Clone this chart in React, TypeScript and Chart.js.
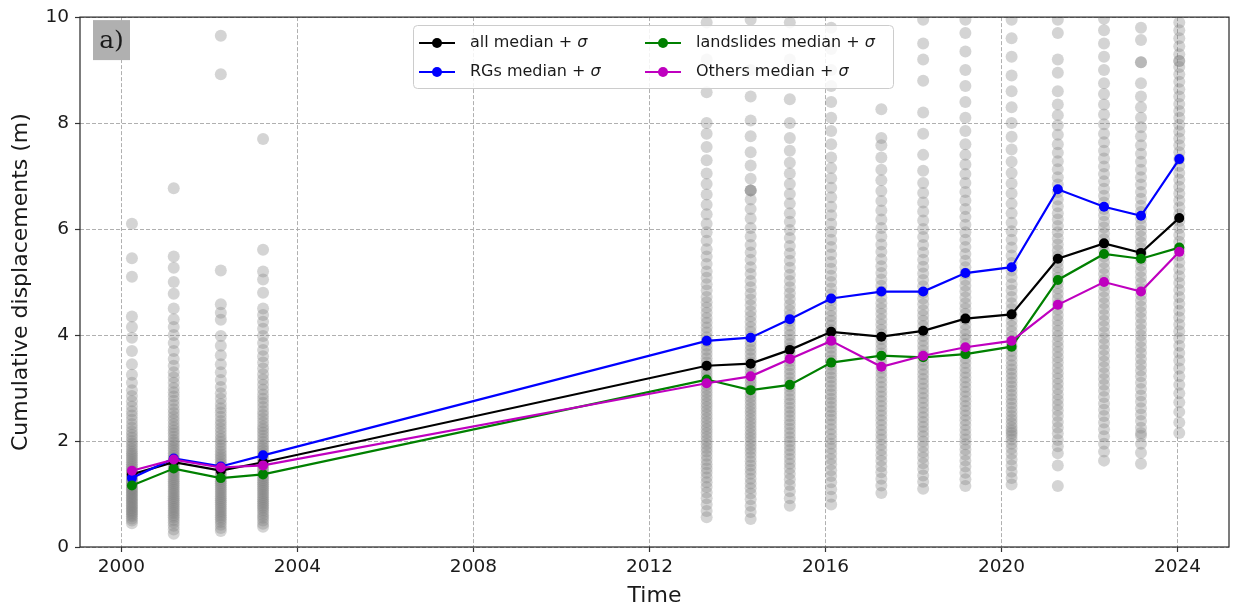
import React, { useEffect, useRef } from 'react';
import { Chart, registerables } from 'chart.js';

Chart.register(...registerables);

// Survey epochs (decimal years)
const epochs = [2000.24, 2001.19, 2002.26, 2003.22, 2013.3, 2014.3, 2015.19, 2016.13, 2017.27, 2018.22, 2019.18, 2020.23, 2021.28, 2022.33, 2023.17, 2024.04];

// Median (+ sigma) cumulative displacement per group, metres
const allMedian = [1.37, 1.6, 1.44, 1.6, 3.42, 3.46, 3.72, 4.06, 3.97, 4.08, 4.31, 4.39, 5.44, 5.73, 5.55, 6.21];
const rgMedian = [1.3, 1.67, 1.52, 1.73, 3.89, 3.95, 4.3, 4.69, 4.82, 4.82, 5.17, 5.28, 6.75, 6.42, 6.25, 7.32];
const landslideMedian = [1.16, 1.48, 1.3, 1.37, 3.16, 2.96, 3.06, 3.48, 3.61, 3.58, 3.64, 3.78, 5.04, 5.53, 5.44, 5.65];
const othersMedian = [1.44, 1.65, 1.5, 1.54, 3.09, 3.22, 3.55, 3.89, 3.4, 3.61, 3.77, 3.89, 4.57, 5.0, 4.82, 5.57];

// Individual cumulative displacements at each epoch, metres
const displacementsByEpoch = [
  [0.45, 0.5, 0.54, 0.58, 0.61, 0.64, 0.67, 0.7, 0.73, 0.76, 0.79, 0.82, 0.85, 0.88, 0.91, 0.94, 0.97, 1.0, 1.03, 1.06, 1.09, 1.12, 1.15, 1.18, 1.21, 1.24, 1.27, 1.3, 1.33, 1.36, 1.39, 1.42, 1.45, 1.48, 1.52, 1.56, 1.6, 1.64, 1.68, 1.72, 1.76, 1.8, 1.85, 1.9, 1.95, 2.0, 2.06, 2.12, 2.18, 2.25, 2.32, 2.4, 2.48, 2.56, 2.65, 2.75, 2.85, 2.96, 3.1, 3.25, 3.45, 3.7, 3.95, 4.15, 4.35, 5.1, 5.45, 6.1],
  [0.25, 0.33, 0.4, 0.46, 0.51, 0.56, 0.6, 0.64, 0.68, 0.72, 0.76, 0.8, 0.84, 0.88, 0.92, 0.96, 1.0, 1.04, 1.08, 1.12, 1.16, 1.2, 1.24, 1.28, 1.32, 1.36, 1.4, 1.44, 1.48, 1.52, 1.56, 1.6, 1.64, 1.68, 1.72, 1.77, 1.82, 1.87, 1.92, 1.97, 2.02, 2.08, 2.14, 2.2, 2.26, 2.32, 2.39, 2.46, 2.53, 2.6, 2.68, 2.76, 2.84, 2.92, 3.0, 3.1, 3.2, 3.3, 3.42, 3.55, 3.7, 3.85, 4.0, 4.15, 4.3, 4.5, 4.78, 5.0, 5.27, 5.48, 6.77],
  [0.3, 0.36, 0.42, 0.47, 0.52, 0.56, 0.6, 0.64, 0.68, 0.72, 0.76, 0.8, 0.84, 0.88, 0.92, 0.96, 1.0, 1.04, 1.08, 1.12, 1.16, 1.2, 1.24, 1.28, 1.32, 1.36, 1.4, 1.44, 1.48, 1.52, 1.56, 1.6, 1.65, 1.7, 1.75, 1.8, 1.86, 1.92, 1.98, 2.04, 2.1, 2.17, 2.24, 2.31, 2.38, 2.46, 2.54, 2.62, 2.7, 2.8, 2.9, 3.02, 3.15, 3.3, 3.45, 3.62, 3.8, 3.98, 4.29, 4.42, 4.58, 5.22, 8.92, 9.65],
  [0.38, 0.44, 0.5, 0.55, 0.6, 0.65, 0.7, 0.74, 0.78, 0.82, 0.86, 0.9, 0.94, 0.98, 1.02, 1.06, 1.1, 1.14, 1.18, 1.22, 1.26, 1.3, 1.34, 1.38, 1.42, 1.46, 1.5, 1.54, 1.58, 1.62, 1.67, 1.72, 1.77, 1.82, 1.87, 1.92, 1.98, 2.04, 2.1, 2.16, 2.22, 2.28, 2.35, 2.42, 2.49, 2.56, 2.64, 2.72, 2.8, 2.88, 2.97, 3.06, 3.16, 3.26, 3.37, 3.48, 3.6, 3.72, 3.85, 3.98, 4.12, 4.25, 4.38, 4.5, 4.8, 5.05, 5.2, 5.61, 7.7],
  [0.56, 0.68, 0.8, 0.92, 1.03, 1.13, 1.22, 1.31, 1.4, 1.48, 1.56, 1.64, 1.72, 1.8, 1.87, 1.94, 2.01, 2.08, 2.15, 2.22, 2.29, 2.36, 2.43, 2.5, 2.57, 2.64, 2.71, 2.78, 2.85, 2.92, 2.99, 3.06, 3.13, 3.2, 3.27, 3.34, 3.41, 3.48, 3.56, 3.64, 3.72, 3.8, 3.88, 3.96, 4.05, 4.14, 4.23, 4.32, 4.42, 4.52, 4.62, 4.72, 4.84, 4.96, 5.08, 5.2, 5.34, 5.48, 5.62, 5.78, 5.94, 6.1, 6.28, 6.46, 6.65, 6.85, 7.05, 7.3, 7.55, 7.8, 8.0, 8.58, 9.2, 9.9],
  [0.53, 0.66, 0.78, 0.9, 1.01, 1.11, 1.2, 1.29, 1.38, 1.46, 1.54, 1.62, 1.7, 1.78, 1.85, 1.92, 1.99, 2.06, 2.13, 2.2, 2.27, 2.34, 2.41, 2.48, 2.55, 2.62, 2.69, 2.76, 2.83, 2.9, 2.97, 3.04, 3.11, 3.18, 3.25, 3.32, 3.4, 3.48, 3.56, 3.64, 3.72, 3.8, 3.88, 3.97, 4.06, 4.15, 4.25, 4.35, 4.45, 4.56, 4.67, 4.78, 4.9, 5.02, 5.15, 5.28, 5.42, 5.56, 5.7, 5.86, 6.02, 6.2, 6.38, 6.56, 6.73, 6.73, 6.73, 6.95, 7.2, 7.45, 7.75, 8.05, 8.5, 9.0, 9.5, 9.95],
  [0.78, 0.92, 1.05, 1.17, 1.28, 1.38, 1.48, 1.57, 1.66, 1.75, 1.83, 1.91, 1.99, 2.07, 2.15, 2.23, 2.31, 2.39, 2.47, 2.55, 2.63, 2.71, 2.79, 2.87, 2.95, 3.03, 3.11, 3.19, 3.27, 3.35, 3.43, 3.51, 3.59, 3.67, 3.75, 3.83, 3.91, 4.0, 4.09, 4.18, 4.27, 4.37, 4.47, 4.57, 4.68, 4.79, 4.9, 5.02, 5.14, 5.27, 5.4, 5.54, 5.68, 5.83, 5.98, 6.14, 6.3, 6.48, 6.66, 6.85, 7.05, 7.25, 7.48, 7.72, 8.0, 8.45, 9.2, 9.9],
  [0.8, 0.95, 1.09, 1.22, 1.34, 1.45, 1.56, 1.66, 1.76, 1.86, 1.95, 2.04, 2.13, 2.22, 2.31, 2.4, 2.48, 2.56, 2.64, 2.72, 2.8, 2.88, 2.96, 3.04, 3.12, 3.2, 3.28, 3.36, 3.44, 3.52, 3.6, 3.68, 3.76, 3.84, 3.92, 4.0, 4.09, 4.18, 4.27, 4.36, 4.46, 4.56, 4.66, 4.77, 4.88, 5.0, 5.12, 5.25, 5.38, 5.52, 5.66, 5.8, 5.95, 6.1, 6.26, 6.42, 6.6, 6.78, 6.96, 7.15, 7.35, 7.6, 7.85, 8.1, 8.4, 8.7, 9.0, 9.4, 9.8],
  [1.02, 1.16, 1.29, 1.41, 1.52, 1.63, 1.73, 1.83, 1.93, 2.03, 2.12, 2.21, 2.3, 2.39, 2.48, 2.57, 2.66, 2.75, 2.84, 2.93, 3.02, 3.11, 3.2, 3.29, 3.38, 3.47, 3.56, 3.65, 3.74, 3.83, 3.92, 4.01, 4.1, 4.2, 4.3, 4.4, 4.5, 4.6, 4.71, 4.82, 4.93, 5.05, 5.17, 5.3, 5.43, 5.57, 5.71, 5.86, 6.02, 6.18, 6.35, 6.53, 6.72, 6.92, 7.12, 7.35, 7.58, 7.72, 8.26],
  [1.1, 1.23, 1.35, 1.47, 1.58, 1.69, 1.79, 1.89, 1.99, 2.09, 2.18, 2.27, 2.36, 2.45, 2.54, 2.63, 2.72, 2.81, 2.9, 2.99, 3.08, 3.17, 3.26, 3.35, 3.44, 3.53, 3.62, 3.71, 3.8, 3.89, 3.98, 4.07, 4.17, 4.27, 4.37, 4.47, 4.58, 4.69, 4.8, 4.92, 5.04, 5.16, 5.29, 5.42, 5.56, 5.7, 5.85, 6.0, 6.16, 6.33, 6.5, 6.68, 6.87, 7.1, 7.4, 7.8, 8.2, 8.8, 9.2, 9.5, 9.95],
  [1.15, 1.28, 1.4, 1.52, 1.63, 1.74, 1.84, 1.94, 2.03, 2.12, 2.21, 2.3, 2.39, 2.48, 2.57, 2.66, 2.75, 2.84, 2.93, 3.02, 3.11, 3.2, 3.29, 3.38, 3.47, 3.56, 3.65, 3.74, 3.83, 3.92, 4.01, 4.1, 4.2, 4.3, 4.4, 4.5, 4.6, 4.71, 4.82, 4.93, 5.04, 5.16, 5.28, 5.4, 5.53, 5.66, 5.8, 5.94, 6.08, 6.23, 6.38, 6.54, 6.7, 6.87, 7.04, 7.22, 7.4, 7.6, 7.85, 8.1, 8.4, 8.7, 9.0, 9.35, 9.7, 9.95],
  [1.18, 1.3, 1.42, 1.54, 1.65, 1.76, 1.86, 1.95, 2.03, 2.1, 2.15, 2.2, 2.26, 2.33, 2.4, 2.47, 2.55, 2.63, 2.71, 2.79, 2.87, 2.95, 3.03, 3.11, 3.19, 3.27, 3.35, 3.43, 3.52, 3.61, 3.7, 3.79, 3.88, 3.97, 4.07, 4.17, 4.27, 4.38, 4.49, 4.6, 4.72, 4.84, 4.96, 5.09, 5.22, 5.36, 5.5, 5.65, 5.8, 5.96, 6.12, 6.3, 6.48, 6.67, 6.86, 7.06, 7.27, 7.5, 7.74, 8.0, 8.3, 8.6, 8.9, 9.25, 9.6, 9.95],
  [1.15, 1.54, 1.77, 1.9, 2.02, 2.14, 2.25, 2.36, 2.47, 2.58, 2.68, 2.78, 2.88, 2.98, 3.08, 3.18, 3.28, 3.38, 3.48, 3.58, 3.68, 3.78, 3.88, 3.98, 4.08, 4.18, 4.28, 4.38, 4.48, 4.58, 4.68, 4.78, 4.88, 4.98, 5.08, 5.18, 5.28, 5.38, 5.49, 5.6, 5.71, 5.82, 5.94, 6.06, 6.18, 6.3, 6.43, 6.56, 6.7, 6.84, 6.98, 7.13, 7.28, 7.44, 7.6, 7.78, 7.96, 8.15, 8.35, 8.6, 8.95, 9.2, 9.7, 9.95],
  [1.63, 1.8, 1.95, 2.09, 2.22, 2.35, 2.47, 2.59, 2.71, 2.83, 2.95, 3.06, 3.17, 3.28, 3.39, 3.5, 3.61, 3.72, 3.83, 3.94, 4.05, 4.16, 4.27, 4.38, 4.49, 4.6, 4.71, 4.82, 4.93, 5.04, 5.15, 5.26, 5.37, 5.48, 5.59, 5.7, 5.81, 5.92, 6.03, 6.14, 6.26, 6.38, 6.5, 6.63, 6.76, 6.9, 7.04, 7.18, 7.33, 7.48, 7.64, 7.8, 7.98, 8.16, 8.35, 8.55, 8.75, 9.0, 9.25, 9.5, 9.75, 9.97],
  [1.57, 1.78, 1.95, 2.1, 2.15, 2.25, 2.38, 2.5, 2.62, 2.74, 2.86, 2.98, 3.1, 3.22, 3.33, 3.44, 3.55, 3.66, 3.77, 3.88, 3.99, 4.1, 4.21, 4.32, 4.43, 4.54, 4.65, 4.76, 4.87, 4.98, 5.09, 5.2, 5.31, 5.42, 5.53, 5.64, 5.75, 5.86, 5.97, 6.08, 6.2, 6.32, 6.44, 6.57, 6.7, 6.84, 6.98, 7.12, 7.27, 7.42, 7.58, 7.75, 7.92, 8.1, 8.3, 8.5, 8.75, 9.15, 9.15, 9.57, 9.8],
  [2.15, 2.35, 2.55, 2.73, 2.9, 3.06, 3.22, 3.37, 3.52, 3.66, 3.8, 3.94, 4.07, 4.2, 4.33, 4.46, 4.59, 4.72, 4.85, 4.98, 5.11, 5.24, 5.37, 5.5, 5.63, 5.76, 5.89, 6.02, 6.15, 6.28, 6.41, 6.54, 6.67, 6.8, 6.93, 7.06, 7.19, 7.32, 7.45, 7.58, 7.71, 7.84, 7.97, 8.1, 8.23, 8.36, 8.5, 8.64, 8.78, 8.92, 9.06, 9.17, 9.17, 9.3, 9.45, 9.6, 9.75, 9.9],
];

const xTicks = [2000, 2004, 2008, 2012, 2016, 2020, 2024];
const yTicks = [0, 2, 4, 6, 8, 10];

const FONT = "'DejaVu Sans', sans-serif";
const TEXT = '#1a1a1a';

// Box around the axes (all four spines)
const framePlugin = {
  id: 'frame',
  afterDatasetsDraw(chart: any) {
    const { ctx, chartArea: a } = chart;
    ctx.save();
    ctx.strokeStyle = '#262626';
    ctx.lineWidth = 1.2;
    ctx.strokeRect(a.left, a.top, a.right - a.left, a.bottom - a.top);
    ctx.restore();
  },
};

// Panel tag "a)" in the upper-left corner
const panelTagPlugin = {
  id: 'panelTag',
  afterDraw(chart: any) {
    const { ctx, chartArea: a } = chart;
    const x = a.left + 13;
    const y = a.top + 3;
    ctx.save();
    ctx.fillStyle = '#b0b0b0';
    ctx.fillRect(x, y, 37, 40);
    ctx.fillStyle = '#1a1a1a';
    ctx.font = "25px 'DejaVu Serif', serif";
    ctx.textAlign = 'center';
    ctx.textBaseline = 'middle';
    ctx.fillText('a)', x + 18.5, y + 21);
    ctx.restore();
  },
};

// Two-column legend: line + marker handle, label with italic sigma
const legendPlugin = {
  id: 'medianLegend',
  afterDraw(chart: any) {
    const { ctx } = chart;
    const items = chart.data.datasets.filter((d: any) => d.showInLegend);
    const bx = 413.5, by = 25.5, bw = 480, bh = 63;
    ctx.save();
    ctx.beginPath();
    ctx.roundRect(bx, by, bw, bh, 4);
    ctx.fillStyle = 'rgba(255,255,255,0.85)';
    ctx.fill();
    ctx.strokeStyle = '#cccccc';
    ctx.lineWidth = 1;
    ctx.stroke();
    const colX = [419, 645];
    const rowY = [43, 72];
    items.forEach((d: any, i: number) => {
      const x = colX[Math.floor(i / 2)];
      const y = rowY[i % 2];
      ctx.strokeStyle = d.borderColor;
      ctx.lineWidth = 2;
      ctx.beginPath();
      ctx.moveTo(x, y);
      ctx.lineTo(x + 36, y);
      ctx.stroke();
      ctx.fillStyle = d.borderColor;
      ctx.beginPath();
      ctx.arc(x + 18, y, 5, 0, Math.PI * 2);
      ctx.fill();
      const label: string = d.label;
      const head = label.slice(0, -1);
      const sigma = label.slice(-1);
      ctx.fillStyle = TEXT;
      ctx.textBaseline = 'middle';
      ctx.textAlign = 'left';
      ctx.font = `16px ${FONT}`;
      ctx.fillText(head, x + 51, y);
      const w = ctx.measureText(head).width;
      ctx.font = `italic 16px ${FONT}`;
      ctx.fillText(sigma, x + 51 + w, y);
    });
    ctx.restore();
  },
};

function medianLine(label: string, values: number[], color: string, order: number) {
  return {
    type: 'line' as const,
    label,
    showInLegend: true,
    data: epochs.map((t, i) => ({ x: t, y: values[i] })),
    borderColor: color,
    backgroundColor: color,
    borderWidth: 2.2,
    pointRadius: 5,
    pointBorderWidth: 0,
    pointBackgroundColor: color,
    tension: 0,
    fill: false,
    order,
  };
}

export default function App() {
  const canvasRef = useRef<HTMLCanvasElement | null>(null);

  useEffect(() => {
    if (!canvasRef.current) return;
    const greyPoints = epochs.flatMap((t, i) => displacementsByEpoch[i].map((v) => ({ x: t, y: v })));

    const chart = new Chart(canvasRef.current, {
      data: {
        datasets: [
          {
            type: 'scatter',
            label: 'individual',
            data: greyPoints,
            pointRadius: 6,
            pointBorderWidth: 0,
            backgroundColor: 'rgba(128,128,128,0.34)',
            clip: 0,
            order: 10,
          } as any,
          medianLine('all median + σ', allMedian, '#000000', 4),
          medianLine('RGs median + σ', rgMedian, '#0000ff', 3),
          medianLine('landslides median + σ', landslideMedian, '#008000', 2),
          medianLine('Others median + σ', othersMedian, '#bf00bf', 1),
        ],
      },
      options: {
        animation: false,
        responsive: true,
        maintainAspectRatio: false,
        events: [],
        layout: { padding: { top: 17, right: 7, left: 0, bottom: 0 } },
        plugins: { legend: { display: false }, tooltip: { enabled: false } },
        font: { family: FONT },
        scales: {
          x: {
            type: 'linear',
            min: 1999.06,
            max: 2025.17,
            afterBuildTicks: (s: any) => {
              s.ticks = xTicks.map((v) => ({ value: v }));
            },
            afterFit: (s: any) => {
              s.height = 63;
            },
            grid: { color: '#b0b0b0', lineWidth: 1, tickColor: '#333333', tickLength: 5, tickWidth: 1.2 },
            border: { display: false, dash: [4, 2] },
            ticks: {
              color: TEXT,
              font: { family: FONT, size: 18.5 },
              padding: 4,
              maxRotation: 0,
              autoSkip: false,
              callback: (v: any) => String(v),
            },
            title: { display: true, text: 'Time', color: TEXT, font: { family: FONT, size: 22 }, padding: { top: 0, bottom: 1 } },
          },
          y: {
            type: 'linear',
            min: 0,
            max: 10,
            afterBuildTicks: (s: any) => {
              s.ticks = yTicks.map((v) => ({ value: v }));
            },
            afterFit: (s: any) => {
              s.width = 80;
            },
            grid: { color: '#b0b0b0', lineWidth: 1, tickColor: '#333333', tickLength: 5, tickWidth: 1.2 },
            border: { display: false, dash: [4, 2] },
            ticks: {
              color: TEXT,
              font: { family: FONT, size: 18.5 },
              padding: 6,
              callback: (v: any) => String(v),
            },
            title: {
              display: true,
              text: 'Cumulative displacements (m)',
              color: TEXT,
              font: { family: FONT, size: 22 },
              padding: { top: 8, bottom: 0 },
            },
          },
        },
      } as any,
      plugins: [framePlugin, panelTagPlugin, legendPlugin],
    });
    return () => chart.destroy();
  }, []);

  return (
    <div style={{ position: 'fixed', left: 0, top: 0, width: 1236, height: 610, background: '#ffffff' }}>
      <canvas ref={canvasRef} />
    </div>
  );
}
